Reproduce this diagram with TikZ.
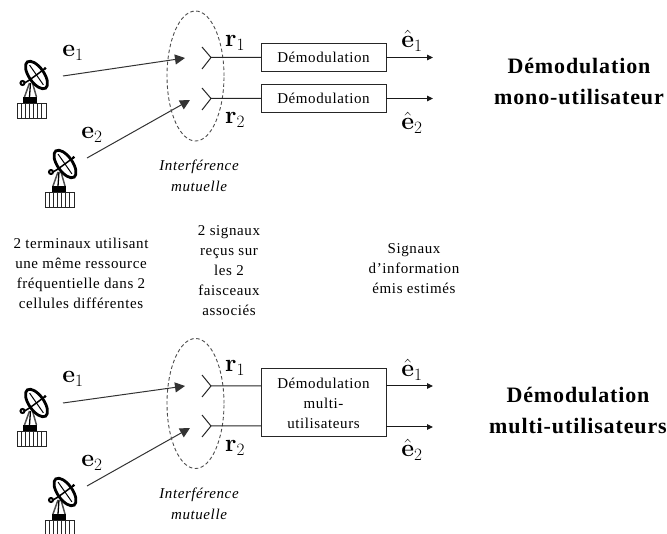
\documentclass[tikz,border=0pt]{standalone}
\usepackage[no-math]{fontspec}
\setmainfont[LetterSpace=4]{Liberation Serif}
\usetikzlibrary{arrows.meta}
\tikzset{
  every node/.append style={inner sep=0pt,outer sep=0pt},
  dashring/.style={draw=black!70,dashed,dash pattern=on 3.5pt off 2.5pt,line width=0.9pt},
  beam/.style={draw=black!80,line width=1pt,-{Triangle[length=10pt,width=10pt]}},
  outarrow/.style={draw=black!90,line width=1pt,-{Triangle[length=6pt,width=5.5pt]}},
  wire/.style={draw=black!85,line width=1pt},
  demod/.style={draw=black!85,line width=1pt,fill=white,minimum width=125pt,align=center,font=\fontsize{15}{20}\selectfont},
  note/.style={align=center,font=\fontsize{15}{20}\selectfont},
  inote/.style={align=center,font=\fontsize{15}{21}\selectfont\itshape},
  titletext/.style={align=center,font=\fontsize{22}{31}\selectfont\bfseries},
  sym/.style={font=\fontsize{23}{25}\selectfont},
  pics/antenna/.style={code={
    % base with stripes
    \draw[black!85,line width=0.8pt] (-14.5,-7) rectangle (14.5,8);
    \foreach \sx in {-10.5,-6.5,-2.5,1.5,5.5,9.5}{\draw[black!85,line width=1pt] (\sx,-7) -- (\sx,8);}
    % pedestal and legs
    \fill[black] (-8.5,-13) rectangle (5.5,-7);
    \draw[black!70,line width=1.5pt] (-7,-13) -- (-2,-27) (5,-13) -- (1,-27);
    \draw[black,line width=1.3pt] (-2,-13) -- (-1,-27);
    % counterweight
    \draw[black,line width=2pt] (-9,-27) circle (2pt);
    \draw[black,line width=1.6pt] (-7,-27) -- (3,-33);
    % dish
    \begin{scope}[shift={(5,-35)},rotate=-55]
      \draw[black,line width=2.8pt,fill=white] (0,0) ellipse [x radius=16pt,y radius=7.5pt];
      \draw[black,line width=1pt] (-12,0) -- (12,0);
    \end{scope}
    \draw[black,line width=1.5pt] (-2,-30) -- (13,-41);
    \fill[black] (13.5,-41.5) circle (1.6pt);
  }}
}
\begin{document}
\begin{tikzpicture}[x=1pt,y=-1pt]
\useasboundingbox (0,0) rectangle (667,534);
% ---------- top panel
\pic (ta) at (31.5,110) {antenna};
\pic (tb) at (60,199) {antenna};
\coordinate (ta1) at (63,76);
\coordinate (ta2) at (185,58);
\coordinate (tb1) at (87,158);
\coordinate (tb2) at (190,100);
\draw[beam] (ta1) -- (ta2);
\draw[beam] (tb1) -- (tb2);
\node[sym] (te1) at (73,53) {$\mathbf{e}_1$};
\node[sym] (te2) at (92,135) {$\mathbf{e}_2$};
\draw[dashring] (195.5,76) ellipse [x radius=28.5pt,y radius=65pt];
\node[demod,minimum height=28pt] (td1) at (323.5,57.5) {Démodulation};
\node[demod,minimum height=28pt] (td2) at (323.5,98.5) {Démodulation};
\coordinate (tv1) at (211,57.5);
\coordinate (tv1a) at (202,47);
\coordinate (tv1b) at (202,69);
\coordinate (tv2) at (211,98.5);
\coordinate (tv2a) at (202,88);
\coordinate (tv2b) at (202,110);
\draw[wire] (tv1a) -- (tv1) -- (tv1b) (tv1) -- (td1.west);
\draw[wire] (tv2a) -- (tv2) -- (tv2b) (tv2) -- (td2.west);
\coordinate (to1) at (433,57.5);
\coordinate (to2) at (433,98.5);
\draw[outarrow] (td1.east) -- (to1);
\draw[outarrow] (td2.east) -- (to2);
\node[sym] (tr1) at (235,43) {$\mathbf{r}_1$};
\node[sym] (tr2) at (235,120) {$\mathbf{r}_2$};
\node[sym] (th1) at (412,41) {$\hat{\mathbf{e}}_1$};
\node[sym] (th2) at (412,123) {$\hat{\mathbf{e}}_2$};
\node[inote] (ti) at (199,176) {Interférence\\mutuelle};
\node[titletext] (tt) at (579,81) {Démodulation\\mono-utilisateur};
% ---------- middle notes
\node[note] (n1) at (81,273) {2 terminaux utilisant\\une même ressource\\fréquentielle dans 2\\cellules différentes};
\node[note] (n2) at (229,271) {2 signaux\\reçus sur\\les 2\\faisceaux\\associés};
\node[note] (n3) at (414,269) {Signaux\\d’information\\émis estimés};
% ---------- bottom panel
\pic (ba) at (31.5,438) {antenna};
\pic (bb) at (60,527) {antenna};
\coordinate (ba1) at (63,403);
\coordinate (ba2) at (185,386);
\coordinate (bb1) at (87,486);
\coordinate (bb2) at (190,428);
\draw[beam] (ba1) -- (ba2);
\draw[beam] (bb1) -- (bb2);
\node[sym] (be1) at (73,379) {$\mathbf{e}_1$};
\node[sym] (be2) at (92,463) {$\mathbf{e}_2$};
\draw[dashring] (195.5,403.5) ellipse [x radius=28.5pt,y radius=65pt];
\node[demod,minimum height=68pt] (bd) at (323.5,403) {Démodulation\\multi-\\utilisateurs};
\coordinate (bv1) at (211,386);
\coordinate (bv1a) at (202,375);
\coordinate (bv1b) at (202,397);
\coordinate (bv2) at (211,426);
\coordinate (bv2a) at (202,415);
\coordinate (bv2b) at (202,437);
\draw[wire] (bv1a) -- (bv1) -- (bv1b) (bv1) -- (bd.west |- bv1);
\draw[wire] (bv2a) -- (bv2) -- (bv2b) (bv2) -- (bd.west |- bv2);
\coordinate (bo1) at (433,386);
\coordinate (bo2) at (433,427);
\draw[outarrow] (bd.east |- bo1) -- (bo1);
\draw[outarrow] (bd.east |- bo2) -- (bo2);
\node[sym] (br1) at (235,368) {$\mathbf{r}_1$};
\node[sym] (br2) at (235,448) {$\mathbf{r}_2$};
\node[sym] (bh1) at (412,370) {$\hat{\mathbf{e}}_1$};
\node[sym] (bh2) at (412,450) {$\hat{\mathbf{e}}_2$};
\node[inote] (bi) at (199,504) {Interférence\\mutuelle};
\node[titletext] (bt) at (578,410) {Démodulation\\multi-utilisateurs};
\end{tikzpicture}
\end{document}
